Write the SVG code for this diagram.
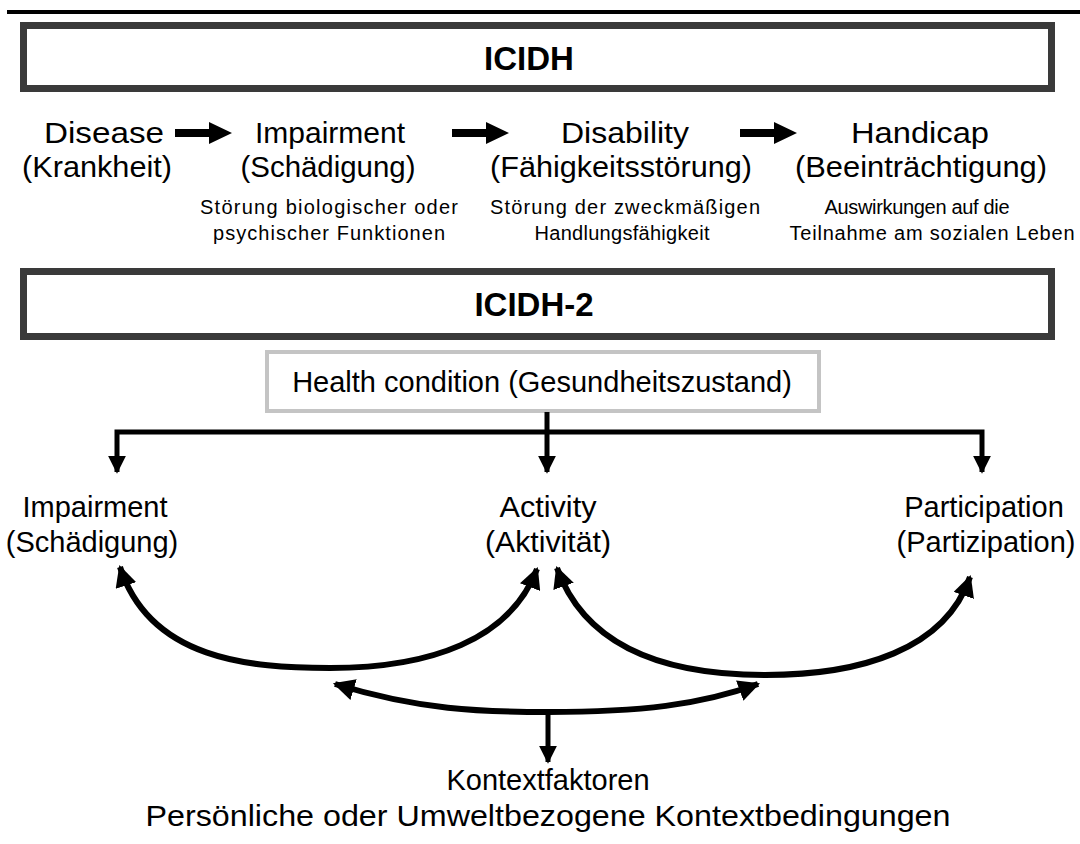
<svg xmlns="http://www.w3.org/2000/svg" width="1080" height="844" viewBox="0 0 1080 844">
  <style>
    .frame { fill: #ffffff; stroke: #3a3a3a; stroke-width: 7; }
    .hc { fill: #ffffff; stroke: #c4c4c4; stroke-width: 4; }
    .title { font-family: "Liberation Sans", Arial, sans-serif; font-weight: bold; font-size: 33px; text-anchor: middle; fill: #000; }
    .big { font-family: "Liberation Sans", Arial, sans-serif; font-size: 29px; text-anchor: middle; fill: #000; }
    .row { font-family: "Liberation Sans", Arial, sans-serif; font-size: 30px; text-anchor: middle; fill: #000; }
    .small { font-family: "Liberation Sans", Arial, sans-serif; font-size: 20px; text-anchor: middle; fill: #000; }
    .line { fill: none; stroke: #000; stroke-width: 5; }
    .curve { fill: none; stroke: #000; stroke-width: 6; }
    .solid { fill: #000; }
  </style>
  <defs>
    <marker id="head" viewBox="0 0 10 10" refX="9" refY="5" markerWidth="3.6" markerHeight="3.6" orient="auto-start-reverse" markerUnits="strokeWidth">
      <path d="M0,0 L10,5 L0,10 Z" fill="#000"/>
    </marker>
    <!-- thick block arrow used in the ICIDH sequence -->
    <path id="block-arrow" d="M0,-4 L34,-4 L34,-11 L57,0 L34,11 L34,4 L0,4 Z"/>
  </defs>
  <rect width="1080" height="844" fill="#ffffff"/>

  <!-- top rule -->
  <line x1="7" y1="12" x2="1080" y2="12" stroke="#000" stroke-width="4"/>

  <!-- ICIDH heading -->
  <g id="icidh-title">
    <rect class="frame" x="23.5" y="25.5" width="1028" height="63"/>
    <text class="title" x="529" y="70">ICIDH</text>
  </g>

  <g id="disease">
    <text class="row" x="104" y="143" textLength="120" lengthAdjust="spacingAndGlyphs">Disease</text>
    <text class="row" x="97" y="177" textLength="150" lengthAdjust="spacingAndGlyphs">(Krankheit)</text>
  </g>
  <g id="impairment-1">
    <text class="row" x="330" y="143" textLength="150" lengthAdjust="spacingAndGlyphs">Impairment</text>
    <text class="row" x="328" y="177" textLength="175" lengthAdjust="spacingAndGlyphs">(Schädigung)</text>
    <text class="small" x="329" y="214" textLength="258" lengthAdjust="spacing">Störung biologischer oder</text>
    <text class="small" x="329" y="240" textLength="232" lengthAdjust="spacing">psychischer Funktionen</text>
  </g>
  <g id="disability">
    <text class="row" x="625" y="143" textLength="128" lengthAdjust="spacingAndGlyphs">Disability</text>
    <text class="row" x="621" y="177" textLength="262" lengthAdjust="spacingAndGlyphs">(Fähigkeitsstörung)</text>
    <text class="small" x="625" y="214" textLength="270" lengthAdjust="spacing">Störung der zweckmäßigen</text>
    <text class="small" x="622" y="240" textLength="175" lengthAdjust="spacing">Handlungsfähigkeit</text>
  </g>
  <g id="handicap">
    <text class="row" x="920" y="143" textLength="138" lengthAdjust="spacingAndGlyphs">Handicap</text>
    <text class="row" x="921" y="177" textLength="252" lengthAdjust="spacingAndGlyphs">(Beeinträchtigung)</text>
    <text class="small" x="917" y="214" textLength="185" lengthAdjust="spacing">Auswirkungen auf die</text>
    <text class="small" x="932" y="240" textLength="285" lengthAdjust="spacing">Teilnahme am sozialen Leben</text>
  </g>

  <!-- ICIDH-2 heading -->
  <g id="icidh2-title">
    <rect class="frame" x="23.5" y="271.5" width="1028" height="65"/>
    <text class="title" x="534" y="316">ICIDH-2</text>
  </g>

  <g id="health-condition">
    <rect class="hc" x="267" y="352" width="552" height="59"/>
    <text class="big" x="542" y="392">Health condition (Gesundheitszustand)</text>
  </g>

  <g id="impairment-2">
    <text class="big" x="95" y="517">Impairment</text>
    <text class="big" x="92" y="552">(Schädigung)</text>
  </g>
  <g id="activity">
    <text class="big" x="548" y="517" textLength="97" lengthAdjust="spacingAndGlyphs">Activity</text>
    <text class="big" x="548" y="552" textLength="126" lengthAdjust="spacingAndGlyphs">(Aktivität)</text>
  </g>
  <g id="participation">
    <text class="big" x="984" y="517">Participation</text>
    <text class="big" x="986" y="552">(Partizipation)</text>
  </g>
  <g id="context">
    <text class="big" x="548" y="790">Kontextfaktoren</text>
    <text class="big" x="548" y="826" textLength="805" lengthAdjust="spacingAndGlyphs">Persönliche oder Umweltbezogene Kontextbedingungen</text>
  </g>

  <g id="connectors">
    <!-- ICIDH sequence -->
    <use href="#block-arrow" class="solid" x="175" y="133"/>
    <use href="#block-arrow" class="solid" x="452" y="133"/>
    <use href="#block-arrow" class="solid" x="740" y="133"/>

    <!-- health condition fan-out -->
    <polyline class="line" points="117,472 117,432 982,432 982,472" marker-start="url(#head)" marker-end="url(#head)"/>
    <line class="line" x1="547" y1="412" x2="547" y2="472" marker-end="url(#head)"/>

    <!-- interactions -->
    <path class="curve" d="M120,567 C150,660 250,668 330,668 C430,668 510,640 537,569" marker-start="url(#head)" marker-end="url(#head)"/>
    <path class="curve" d="M557,568 C590,660 690,675 765,675 C860,675 945,650 970,577" marker-start="url(#head)" marker-end="url(#head)"/>
    <path class="curve" d="M335,684 C420,710 480,712 548,712 C640,712 700,705 758,684" marker-start="url(#head)" marker-end="url(#head)"/>
    <line class="line" x1="548" y1="712" x2="548" y2="762" marker-end="url(#head)"/>
  </g>
</svg>
